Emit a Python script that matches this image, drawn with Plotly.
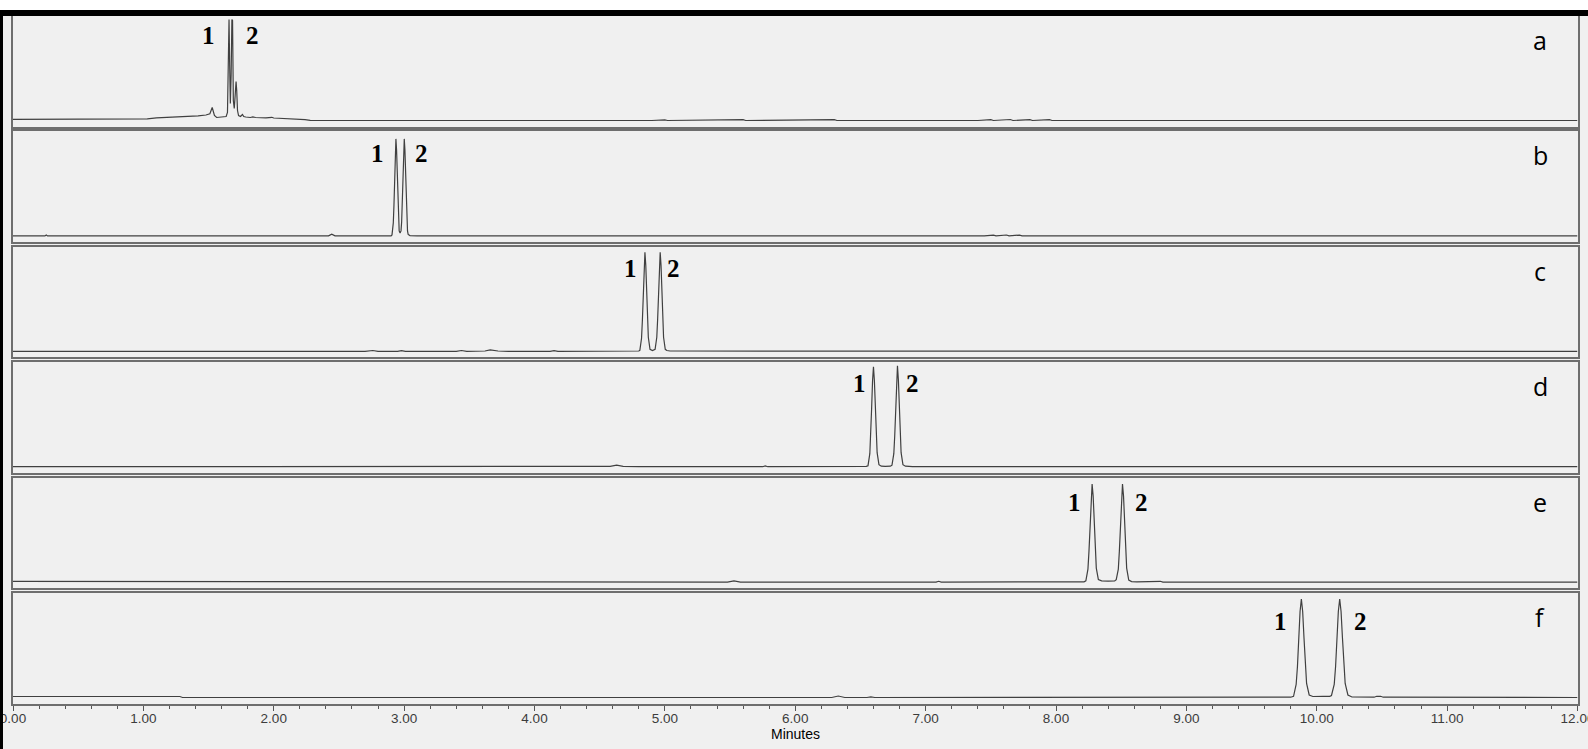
import plotly.graph_objects as go

# ---------------- data ----------------
# (retention time in minutes, detector response in relative units)
a_trace = [(0.00, 1.2), (0.50, 1.2), (0.98, 1.2), (1.03, 1.6), (1.10, 2.6), (1.20, 3.0), (1.28, 3.4),
           (1.35, 4.0), (1.42, 4.6), (1.48, 5.5), (1.51, 6.8), (1.528, 13.0), (1.545, 5.0), (1.562, 3.0),
           (1.60, 3.4), (1.635, 4.0), (1.645, 8.0), (1.652, 60.0), (1.657, 101.0), (1.662, 55.0),
           (1.667, 17.0), (1.673, 45.0), (1.679, 101.0), (1.684, 100.0), (1.690, 20.0), (1.697, 12.0),
           (1.704, 25.0), (1.711, 39.0), (1.716, 30.0), (1.722, 10.0), (1.730, 5.0), (1.745, 4.0),
           (1.760, 6.0), (1.770, 4.0), (1.785, 3.5), (1.820, 3.0), (1.840, 3.6), (1.860, 3.0),
           (1.940, 2.6), (1.985, 3.2), (2.000, 2.5), (2.100, 2.0), (2.200, 1.6), (2.240, 0.8),
           (2.280, 0.2), (2.300, 0.0), (4.90, 0.0), (5.00, 0.7), (5.02, 0.0), (5.30, 0.7), (5.32, 0.0),
           (5.60, 0.8), (5.62, 0.0), (5.95, 0.7), (5.97, 0.0), (6.30, 0.8), (6.32, 0.0), (6.70, 0.7),
           (6.72, 0.0), (7.10, 0.0), (7.40, 0.0), (7.50, 0.9), (7.52, 0.0), (7.65, 1.0), (7.67, 0.0),
           (7.80, 0.9), (7.82, 0.0), (7.95, 0.8), (7.97, 0.0), (8.05, 0.0), (12.00, 0.0)]

b_trace = [(0.00, 0.0), (0.245, 0.0), (0.255, 1.0), (0.265, 0.0), (2.42, 0.0), (2.445, 1.8), (2.47, 0.0),
           (2.90, 0.0), (2.907, 1.0), (2.917, 13.0), (2.922, 31.0), (2.927, 59.0), (2.932, 86.0),
           (2.937, 97.0), (2.942, 86.0), (2.947, 60.0), (2.952, 32.0), (2.957, 14.0), (2.962, 5.0),
           (2.969, 3.0), (2.976, 5.0), (2.981, 14.0), (2.986, 32.0), (2.991, 60.0), (2.996, 86.0),
           (3.001, 97.0), (3.006, 86.0), (3.011, 60.0), (3.016, 32.0), (3.021, 14.0), (3.026, 5.0),
           (3.031, 1.5), (3.045, 0.3), (3.10, 0.0), (5.28, 0.0), (5.30, 0.6), (5.32, 0.0), (7.45, 0.0),
           (7.52, 0.8), (7.54, 0.0), (7.62, 0.9), (7.64, 0.0), (7.72, 0.8), (7.74, 0.0), (7.82, 0.0),
           (12.00, 0.0)]

c_trace = [(0.00, 0.0), (2.70, 0.0), (2.76, 0.8), (2.80, 0.0), (2.95, 0.0), (2.98, 0.7), (3.01, 0.0),
           (3.40, 0.0), (3.44, 0.8), (3.48, 0.0), (3.62, 0.3), (3.66, 1.4), (3.72, 0.3), (3.80, 0.0),
           (4.12, 0.0), (4.15, 0.6), (4.18, 0.0), (4.32, 0.0), (4.35, 0.6), (4.38, 0.0), (4.80, 0.3),
           (4.808, 1.0), (4.821, 13.0), (4.8275, 31.0), (4.834, 59.0), (4.8405, 86.0), (4.847, 99.0),
           (4.8535, 86.0), (4.860, 60.0), (4.8665, 32.0), (4.873, 14.0), (4.886, 2.0), (4.905, 0.8),
           (4.925, 2.0), (4.938, 14.0), (4.9445, 32.0), (4.951, 60.0), (4.9575, 86.0), (4.964, 99.0),
           (4.9705, 86.0), (4.977, 60.0), (4.9835, 32.0), (4.990, 14.0), (5.003, 2.0), (5.015, 0.8),
           (5.04, 0.3), (5.15, 0.3), (5.20, 0.7), (5.25, 0.0), (12.00, 0.0)]

d_trace = [(0.00, 0.0), (3.20, 0.0), (3.40, 0.4), (3.60, 0.2), (3.75, 0.7), (3.90, 0.3), (4.05, 0.6),
           (4.20, 0.3), (4.40, 0.2), (4.58, 0.4), (4.63, 1.5), (4.68, 0.4), (4.80, 0.0), (5.75, 0.0),
           (5.77, 0.8), (5.79, 0.0), (6.545, 0.3), (6.558, 1.0), (6.572, 13.0), (6.579, 31.0),
           (6.586, 59.0), (6.593, 86.0), (6.600, 100.0), (6.607, 86.0), (6.614, 60.0), (6.621, 32.0),
           (6.628, 14.0), (6.642, 2.0), (6.66, 0.5), (6.69, 0.3), (6.73, 0.5), (6.742, 1.5),
           (6.756, 13.0), (6.763, 31.0), (6.770, 59.0), (6.777, 86.0), (6.784, 101.0), (6.791, 87.0),
           (6.798, 60.0), (6.805, 32.0), (6.812, 14.0), (6.826, 2.0), (6.845, 0.5), (6.90, 0.0),
           (7.02, 0.0), (7.04, 0.7), (7.06, 0.0), (12.00, 0.0)]

e_trace = [(0.00, 0.7), (0.55, 0.7), (0.57, 0.3), (1.20, 0.4), (1.22, 0.0), (4.30, 0.0), (4.33, 0.7),
           (4.36, 0.0), (4.52, 0.0), (4.55, 0.6), (4.58, 0.0), (5.48, 0.0), (5.53, 1.2), (5.58, 0.0),
           (7.08, 0.0), (7.10, 0.8), (7.12, 0.0), (8.215, 0.3), (8.229, 1.2), (8.245, 13.0),
           (8.253, 31.0), (8.261, 59.0), (8.269, 86.0), (8.277, 98.0), (8.285, 86.0), (8.293, 60.0),
           (8.301, 32.0), (8.309, 14.0), (8.325, 2.5), (8.35, 1.2), (8.40, 1.0), (8.45, 1.2),
           (8.462, 2.5), (8.478, 13.0), (8.486, 31.0), (8.494, 59.0), (8.502, 86.0), (8.510, 98.0),
           (8.518, 86.0), (8.526, 60.0), (8.534, 32.0), (8.542, 14.0), (8.558, 2.0), (8.58, 0.5),
           (8.62, 0.2), (8.78, 0.2), (8.80, 0.8), (8.82, 0.0), (12.00, 0.0)]

f_trace = [(0.00, 1.0), (1.28, 1.0), (1.30, 0.0), (4.55, 0.0), (4.60, 0.6), (4.65, 0.0), (4.75, 0.6),
           (4.80, 0.0), (4.90, 0.7), (4.95, 0.0), (5.05, 0.5), (5.10, 0.0), (5.95, 0.0), (6.00, 0.6),
           (6.05, 0.0), (6.28, 0.0), (6.33, 1.5), (6.38, 0.0), (6.55, 0.0), (6.58, 0.6), (6.61, 0.0),
           (9.80, 0.3), (9.822, 1.2), (9.842, 13.0), (9.852, 31.0), (9.862, 59.0), (9.872, 86.0),
           (9.882, 98.5), (9.892, 86.0), (9.902, 60.0), (9.912, 32.0), (9.922, 14.0), (9.942, 2.5),
           (9.97, 1.0), (10.05, 1.2), (10.100, 1.2), (10.113, 2.0), (10.134, 13.0), (10.1445, 31.0),
           (10.155, 59.0), (10.1655, 86.0), (10.176, 98.5), (10.1865, 86.0), (10.197, 60.0),
           (10.2075, 32.0), (10.218, 14.0), (10.239, 2.5), (10.27, 0.5), (10.44, 0.3), (10.46, 1.2),
           (10.49, 1.2), (10.51, 0.3), (12.00, 0.0)]

panel_letters = ["a", "b", "c", "d", "e", "f"]
peak_names = ["1", "2"]
tick_values = [0, 1, 2, 3, 4, 5, 6, 7, 8, 9, 10, 11, 12]
tick_labels = ["0.00", "1.00", "2.00", "3.00", "4.00", "5.00", "6.00", "7.00", "8.00", "9.00",
               "10.00", "11.00", "12.00"]
x_title = "Minutes"

# ---------------- layout helpers ----------------
W, H = 1588, 749
traces = [a_trace, b_trace, c_trace, d_trace, e_trace, f_trace]

def px_x(px):
    return px / W

def px_y(py):
    return 1 - py / H

X_LEFT, X_RIGHT = 13.0, 1577.5
PANEL_TOP0, PANEL_PITCH, PANEL_H = 16.0, 115.4, 110.5
FRAME = "#6e6e6e"
BG = "#f0f0f0"
LINE = "#404040"

fig = go.Figure()
layout = dict(
    width=W, height=H, margin=dict(l=0, r=0, t=0, b=0, pad=0, autoexpand=False),
    paper_bgcolor=BG, plot_bgcolor=BG, showlegend=False,
    shapes=[], annotations=[],
)

for i, tr in enumerate(traces):
    n = "" if i == 0 else str(i + 1)
    t = [p[0] for p in tr]
    s = [p[1] for p in tr]
    fig.add_trace(go.Scatter(x=t, y=s, mode="lines", line=dict(color=LINE, width=1.2),
                             xaxis="x" + n, yaxis="y" + n, hoverinfo="skip"))
    top = PANEL_TOP0 + PANEL_PITCH * i
    bot = top + PANEL_H
    last = (i == len(traces) - 1)
    xa = dict(domain=[px_x(X_LEFT), px_x(X_RIGHT)], anchor="y" + n, range=[0, 12],
              showgrid=False, zeroline=False, showline=True, linecolor=FRAME, linewidth=2,
              mirror=True, fixedrange=True, automargin=False)
    if last:
        xa.update(ticks="outside", ticklen=5, tickwidth=1, tickcolor="#555555",
                  tickvals=tick_values, ticktext=tick_labels, showticklabels=True,
                  tickfont=dict(family="Liberation Sans", size=13.5, color="#3c3c3c"),
                  ticklabeloverflow="allow", ticklabelstandoff=-4,
                  minor=dict(dtick=0.2, ticks="outside", ticklen=3, tickcolor="#555555", tickwidth=1))
    else:
        xa.update(ticks="", showticklabels=False)
    ya = dict(domain=[px_y(bot), px_y(top)], anchor="x" + n, range=[-6, 104.5],
              showgrid=False, zeroline=False, showline=True, linecolor=FRAME, linewidth=2,
              mirror=True, ticks="", showticklabels=False, fixedrange=True, automargin=False)
    layout["xaxis" + n] = xa
    layout["yaxis" + n] = ya

    # panel letter
    layout["annotations"].append(dict(
        text=panel_letters[i], x=px_x(1540), y=px_y(top + 24), xref="paper", yref="paper",
        xanchor="center", yanchor="middle", showarrow=False,
        font=dict(family="Open Sans", size=25, color="#000000")))

# peak labels (pixel centres)
peak_label_px = [((208, 35), (252, 35)), ((377.7, 153), (421.5, 153)), ((630, 268), (673, 268)),
                 ((859, 383), (913, 383)), ((1074, 503), (1141, 503)), ((1280, 621.5), (1360.5, 621.5))]
for pair in peak_label_px:
    for k, (lx, ly) in enumerate(pair):
        layout["annotations"].append(dict(
            text=peak_names[k], x=px_x(lx), y=px_y(ly), xref="paper", yref="paper",
            xanchor="center", yanchor="middle", showarrow=False,
            font=dict(family="Liberation Serif", size=25, color="#000000", weight="bold")))

layout["annotations"].append(dict(
    text=x_title, x=px_x(795), y=px_y(734), xref="paper", yref="paper",
    xanchor="center", yanchor="middle", showarrow=False,
    font=dict(family="Liberation Sans", size=14, color="#000000")))

# frame decorations: white strip + black band at top, black band at left
layout["shapes"] += [
    dict(type="rect", xref="paper", yref="paper", x0=0, x1=1, y0=px_y(10), y1=1,
         fillcolor="#ffffff", line=dict(width=0), layer="above"),
    dict(type="rect", xref="paper", yref="paper", x0=0, x1=1, y0=px_y(16), y1=px_y(10),
         fillcolor="#000000", line=dict(width=0), layer="above"),
    dict(type="rect", xref="paper", yref="paper", x0=0, x1=px_x(3), y0=0, y1=px_y(10),
         fillcolor="#000000", line=dict(width=0), layer="above"),
]

fig.update_layout(**layout)
fig.write_html("out.html", config={"displayModeBar": False},
               post_script="document.body.style.margin='0';document.body.style.overflow='hidden';")
